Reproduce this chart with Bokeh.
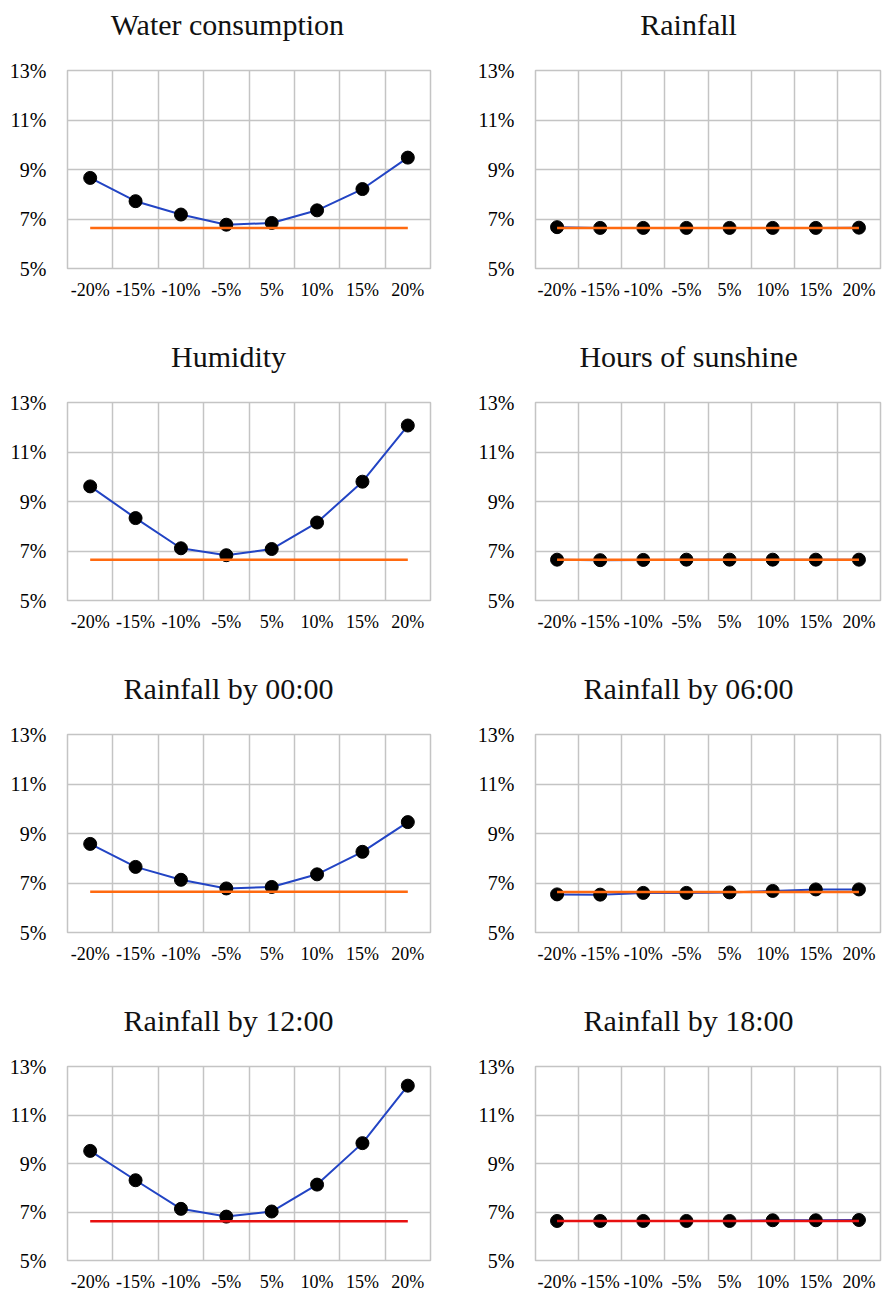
from bokeh.plotting import figure
from bokeh.layouts import column, row
from bokeh.models import FixedTicker, Range1d, PrintfTickFormatter, ColumnDataSource
from bokeh.embed import file_html
from bokeh.resources import INLINE

categories = ["-20%", "-15%", "-10%", "-5%", "5%", "10%", "15%", "20%"]
y_ticks = [5, 7, 9, 11, 13]

titles = ["Water consumption", "Rainfall", "Humidity", "Hours of sunshine",
          "Rainfall by 00:00", "Rainfall by 06:00", "Rainfall by 12:00", "Rainfall by 18:00"]

water_consumption = [8.66, 7.72, 7.18, 6.77, 6.84, 7.35, 8.21, 9.48]
water_consumption_base = [6.64, 6.64, 6.64, 6.64, 6.64, 6.64, 6.64, 6.64]
rainfall = [6.67, 6.64, 6.64, 6.64, 6.64, 6.64, 6.64, 6.65]
rainfall_base = [6.64, 6.64, 6.64, 6.64, 6.64, 6.64, 6.64, 6.64]
humidity = [9.61, 8.33, 7.11, 6.83, 7.08, 8.15, 9.80, 12.07]
humidity_base = [6.65, 6.65, 6.65, 6.65, 6.65, 6.65, 6.65, 6.65]
sunshine = [6.65, 6.63, 6.64, 6.65, 6.65, 6.65, 6.65, 6.65]
sunshine_base = [6.65, 6.65, 6.65, 6.65, 6.65, 6.65, 6.65, 6.65]
rain_00 = [8.58, 7.65, 7.13, 6.78, 6.84, 7.35, 8.26, 9.46]
rain_00_base = [6.65, 6.65, 6.65, 6.65, 6.65, 6.65, 6.65, 6.65]
rain_06 = [6.54, 6.53, 6.60, 6.60, 6.62, 6.68, 6.74, 6.74]
rain_06_base = [6.64, 6.64, 6.64, 6.64, 6.64, 6.64, 6.64, 6.64]
rain_12 = [9.52, 8.31, 7.13, 6.81, 7.02, 8.13, 9.84, 12.21]
rain_12_base = [6.62, 6.62, 6.62, 6.62, 6.62, 6.62, 6.62, 6.62]
rain_18 = [6.63, 6.63, 6.63, 6.63, 6.63, 6.66, 6.66, 6.67]
rain_18_base = [6.63, 6.63, 6.63, 6.63, 6.63, 6.63, 6.63, 6.63]

series = [
    (water_consumption, water_consumption_base, "#ff6a10"),
    (rainfall, rainfall_base, "#ff6a10"),
    (humidity, humidity_base, "#ff6a10"),
    (sunshine, sunshine_base, "#ff6a10"),
    (rain_00, rain_00_base, "#ff6a10"),
    (rain_06, rain_06_base, "#ff6a10"),
    (rain_12, rain_12_base, "#e81010"),
    (rain_18, rain_18_base, "#e81010"),
]

FONT = "Liberation Serif"
GRID = "#c4c4c4"
TITLE_PX = 30

# Times/Liberation Serif advance widths (per 1000 em) used to centre titles
ADV = {"W": 944, "a": 444, "t": 278, "e": 444, "r": 333, " ": 250, "c": 444, "o": 500,
       "n": 500, "s": 389, "u": 500, "m": 778, "p": 500, "i": 278, "R": 667, "f": 333,
       "l": 278, "H": 722, "d": 500, "y": 500, "b": 500, "h": 500, ":": 278}


def text_width(s, px):
    return sum(ADV.get(ch, 500) for ch in s) * px / 1000.0


def make_panel(idx):
    vals, base, base_color = series[idx]
    left_col = idx % 2 == 0
    last_row = idx >= 6
    width = 438 if left_col else 447
    height = 298 if last_row else 332
    border_left = 67 if left_col else 97
    border_right = 8 if left_col else 5
    p = figure(width=width, height=height, output_backend="svg", toolbar_location=None,
               x_range=Range1d(-0.5, len(categories) - 0.5), y_range=Range1d(5, 13),
               min_border_left=border_left, min_border_right=border_right,
               min_border_top=70, min_border_bottom=32 if last_row else 64,
               title=titles[idx])
    frame_w = width - border_left - border_right
    centre = (3.05 + 0.5) / len(categories) * frame_w
    p.title.align = "left"
    p.title.offset = centre - text_width(titles[idx], TITLE_PX) / 2
    p.title.padding = dict(left=0, right=0, top=0, bottom=25)
    p.title.text_font = FONT
    p.title.text_font_size = f"{TITLE_PX}px"
    p.title.text_font_style = "normal"
    p.title.text_color = "#111111"

    xs = list(range(len(categories)))
    src = ColumnDataSource(dict(x=xs, v=vals, b=base))

    p.xaxis.ticker = FixedTicker(ticks=xs)
    p.xaxis.major_label_overrides = {i: c for i, c in enumerate(categories)}
    p.yaxis.ticker = FixedTicker(ticks=y_ticks)
    p.yaxis.formatter = PrintfTickFormatter(format="%d%%")
    p.xgrid.ticker = FixedTicker(ticks=[i + 0.5 for i in range(len(categories) - 1)])
    p.ygrid.ticker = FixedTicker(ticks=y_ticks)
    for ax in (p.xaxis, p.yaxis):
        ax.axis_line_color = None
        ax.major_tick_line_color = None
        ax.minor_tick_line_color = None
        ax.major_label_text_font = FONT
        ax.major_label_text_color = "black"
    p.xaxis.major_label_text_font_size = "18px"
    p.yaxis.major_label_text_font_size = "20px"
    p.xaxis.major_label_standoff = 5
    p.yaxis.major_label_standoff = 15
    p.grid.grid_line_color = GRID
    p.grid.grid_line_width = 1.5
    p.outline_line_color = GRID
    p.outline_line_width = 1.5
    p.background_fill_color = "white"
    p.border_fill_color = "white"

    p.line("x", "v", source=src, line_color="#2244c4", line_width=2)
    p.scatter("x", "v", source=src, size=13, fill_color="black", line_color="black")
    p.line("x", "b", source=src, line_color=base_color, line_width=2.5)
    return p


panels = [make_panel(i) for i in range(8)]
layout = column(*[row(panels[2 * r], panels[2 * r + 1]) for r in range(4)])

open("out.html", "w").write(file_html(layout, INLINE))
